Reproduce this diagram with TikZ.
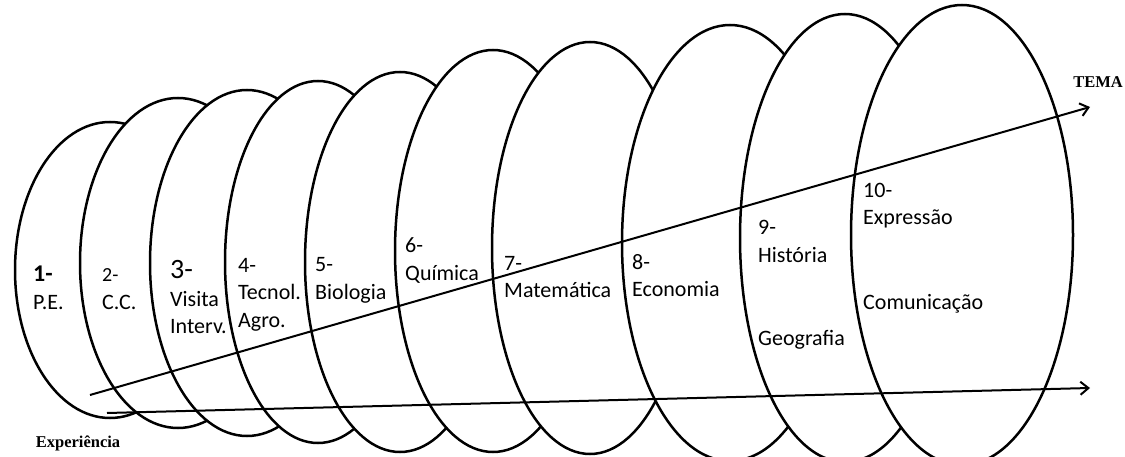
\documentclass[tikz,border=0pt]{standalone}
\usepackage{fontspec}
\setmainfont{Carlito}
\newfontfamily\titlefont{Liberation Serif}
\usepackage{tikz}
\usetikzlibrary{arrows.meta, shapes.geometric}

\begin{document}
\begin{tikzpicture}[
    x=1pt, y=-1pt,
    ring/.style={ellipse, draw=black, fill=white, line width=2.5pt, inner sep=0pt},
    lbl/.style={font=\fontsize{22}{27.5}\selectfont, align=left,
                anchor=base west, inner sep=0pt},
    axis/.style={-{Straight Barb[length=8pt, width=13pt]}, line width=2pt, draw=black},
    axlab/.style={font=\titlefont\bfseries\fontsize{16.5}{18}\selectfont, inner sep=0pt},
  ]
  \useasboundingbox (0,0) rectangle (1125,457);
  \clip (0,0) rectangle (1125,457);
  % ---- ellipses, each one over the previous ----
  \node[ring, minimum width=190pt, minimum height=296pt] (e1)  at (110,270) {};
  \node[ring, minimum width=196pt, minimum height=330pt] (e2)  at (178,263) {};
  \node[ring, minimum width=194pt, minimum height=346pt] (e3)  at (247,263) {};
  \node[ring, minimum width=186pt, minimum height=362pt] (e4)  at (318,262) {};
  \node[ring, minimum width=190pt, minimum height=380pt] (e5)  at (400,262) {};
  \node[ring, minimum width=196pt, minimum height=402pt] (e6)  at (493,251) {};
  \node[ring, minimum width=196pt, minimum height=412pt] (e7)  at (590,248) {};
  \node[ring, minimum width=216pt, minimum height=436pt] (e8)  at (730,243) {};
  \node[ring, minimum width=210pt, minimum height=448pt] (e9)  at (845,238) {};
  \node[ring, minimum width=222pt, minimum height=460pt] (e10) at (962,235) {};
  % ---- labels (anchored on the baseline of the last line) ----
  \node[lbl] (l1)  at (33,309)  {{\fontsize{24}{26}\selectfont\textbf{1-}}\\P.E.};
  \node[lbl] (l2)  at (102,309) {{\fontsize{20}{22}\selectfont 2-}\\C.C.};
  \node[lbl] (l3)  at (170,334) {{\fontsize{28}{30}\selectfont 3-}\\Visita\\Interv.};
  \node[lbl] (l4)  at (238,327) {4-\\Tecnol.\\Agro.};
  \node[lbl] (l5)  at (315,299) {5-\\Biologia};
  \node[lbl] (l6)  at (405,280) {6-\\Química};
  \node[lbl] (l7)  at (504,298) {7-\\Matemática};
  \node[lbl] (l8)  at (632,297) {8-\\Economia};
  \node[lbl] (l9)  at (758,262) {9-\\História};
  \node[lbl] (l9b) at (758,345) {Geografia};
  \node[lbl] (l10) at (863,225) {10-\\Expressão};
  \node[lbl] (l10b) at (863,309) {Comunicação};
  % ---- axes ----
  \coordinate (tema0) at (90,395);
  \coordinate (tema1) at (1090,107);
  \coordinate (exp0)  at (107,413);
  \coordinate (exp1)  at (1090,388);
  \draw[axis] (tema0) -- (tema1);
  \draw[axis] (exp0) -- (exp1);
  \node[axlab] (tema)  at (1098,82)  {TEMA};
  \node[axlab] (exper) at (78,443) {Experiência};
\end{tikzpicture}
\end{document}
